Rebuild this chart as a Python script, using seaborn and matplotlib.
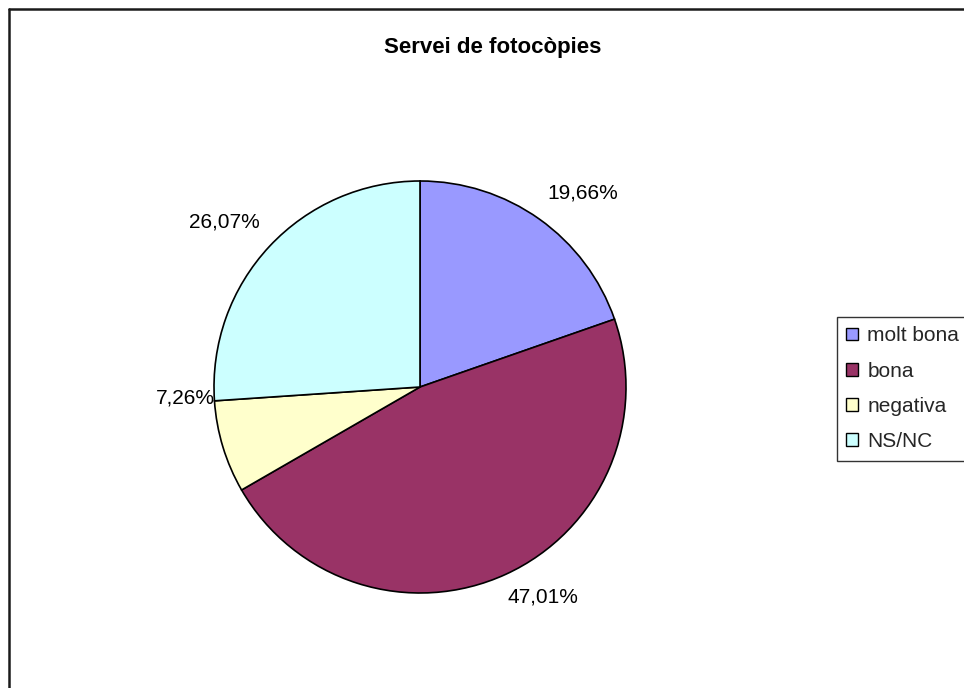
import numpy as np
import matplotlib
matplotlib.use("Agg")
import matplotlib.pyplot as plt
from matplotlib.lines import Line2D
from matplotlib.patches import Patch
import seaborn as sns

# Survey results: opinion on the photocopy service
categories = ["molt bona", "bona", "negativa", "NS/NC"]
percentages = [19.66, 47.01, 7.26, 26.07]
title = "Servei de fotocòpies"

colors = ["#9999FF", "#993366", "#FFFFCC", "#CCFFFF"]

sns.set_theme(style="white")
plt.rcParams["font.family"] = ["Liberation Sans", "DejaVu Sans"]

W, H = 964, 688
fig = plt.figure(figsize=(W / 100, H / 100), dpi=100)
fig.patch.set_facecolor("white")

# pie area: centre (420, 387) px, radius 206 px
cx, cy, r = 420, 387, 206
ax = fig.add_axes([(cx - r) / W, (H - cy - r) / H, 2 * r / W, 2 * r / H])
wedges, _ = ax.pie(
    percentages,
    colors=colors,
    startangle=90,
    counterclock=False,
    radius=1.0,
    wedgeprops=dict(edgecolor="black", linewidth=1.2),
)
ax.set_xlim(-1, 1)
ax.set_ylim(-1, 1)
ax.set_aspect("equal")
ax.axis("off")

# percentage labels placed outside each wedge
label_radius = [1.23, 1.18, 1.14, 1.24]
angle_shift = [-4.5, 5.8, -14.2, 2.9]
for w, pct, lr, da in zip(wedges, percentages, label_radius, angle_shift):
    mid = np.deg2rad((w.theta1 + w.theta2) / 2 + da)
    ax.text(lr * np.cos(mid), lr * np.sin(mid),
            f"{pct:.2f}%".replace(".", ","),
            ha="center", va="center", fontsize=15, color="black")

fig.text(493 / W, 1 - 48 / H, title, ha="center", va="center",
         fontsize=16, fontweight="bold", color="black")

handles = [Patch(facecolor=c, edgecolor="black", linewidth=1.0) for c in colors]
leg = fig.legend(
    handles, categories,
    loc="upper left", bbox_to_anchor=(837 / W, 1 - 317 / H),
    borderaxespad=0, frameon=True, fancybox=False,
    fontsize=15, handlelength=0.55, handleheight=0.55,
    handletextpad=0.45, labelspacing=0.78, borderpad=0.45,
)
leg.get_frame().set_edgecolor("black")
leg.get_frame().set_linewidth(1.0)

# outer chart border (top and left edges visible)
fig.add_artist(Line2D([9 / W, 9 / W], [0, 1 - 9 / H], transform=fig.transFigure,
                      color="#1a1a1a", linewidth=1.8))
fig.add_artist(Line2D([9 / W, 1], [1 - 9 / H, 1 - 9 / H], transform=fig.transFigure,
                      color="#1a1a1a", linewidth=1.8))

fig.savefig("out.png", dpi=100, facecolor="white")
